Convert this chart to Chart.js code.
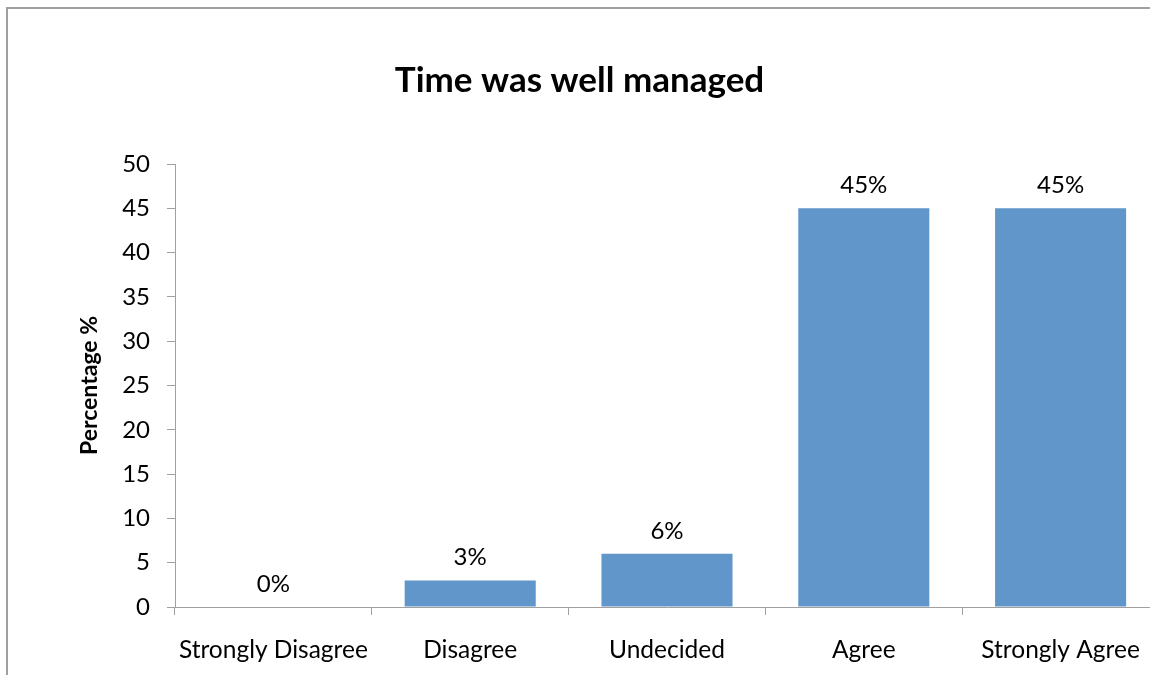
<!DOCTYPE html>
<html>
<head>
<meta charset="utf-8">
<script src="https://cdn.jsdelivr.net/npm/chart.js@4.4.1/dist/chart.umd.min.js"></script>
<style>
  html, body { margin: 0; padding: 0; overflow: hidden; background: #fff; width: 1150px; height: 675px; }
  #c { position: absolute; left: 0; top: 0; }
</style>
</head>
<body>
<canvas id="c" width="1180" height="675" style="width:1180px;height:675px"></canvas>
<script>
const categories = ["Strongly Disagree", "Disagree", "Undecided", "Agree", "Strongly Agree"];
const percentages = [0, 3, 6, 45, 45];
const yTicks = [0, 5, 10, 15, 20, 25, 30, 35, 40, 45, 50];

const FONT = "Lato, 'Open Sans', sans-serif";
const AXIS = "#a0a0a0";

const framePlugin = {
  id: 'frame',
  beforeDraw(chart) {
    const ctx = chart.ctx;
    ctx.save();
    ctx.fillStyle = '#fff';
    ctx.fillRect(0, 0, chart.width, chart.height);
    ctx.strokeStyle = '#a0a0a0';
    ctx.lineWidth = 2;
    ctx.strokeRect(7, 8, 1300, 1000);
    ctx.restore();
  }
};

const labelPlugin = {
  id: 'barLabels',
  afterDatasetsDraw(chart) {
    const ctx = chart.ctx;
    const meta = chart.getDatasetMeta(0);
    ctx.save();
    ctx.font = "24px " + FONT;
    ctx.fillStyle = '#000';
    ctx.textAlign = 'center';
    ctx.textBaseline = 'middle';
    meta.data.forEach((bar, i) => {
      ctx.fillText(percentages[i] + '%', bar.x, bar.y - 23);
    });
    ctx.restore();
  }
};

new Chart(document.getElementById('c'), {
  type: 'bar',
  data: {
    labels: categories,
    datasets: [{
      data: percentages,
      backgroundColor: '#6096C9',
      borderWidth: 0,
      barPercentage: 0.666,
      categoryPercentage: 1.0
    }]
  },
  options: {
    responsive: false,
    animation: false,
    devicePixelRatio: 1,
    layout: { padding: { top: 0, left: 0, right: 21, bottom: 0 } },
    plugins: {
      legend: { display: false },
      tooltip: { enabled: false },
      title: {
        display: true,
        text: 'Time was well managed',
        color: '#000',
        font: { family: FONT, size: 35, weight: 'bold', lineHeight: 1.2 },
        padding: { top: 60, bottom: 62 }
      }
    },
    scales: {
      x: {
        grid: { display: true, drawOnChartArea: false, drawTicks: true, tickLength: 8, color: AXIS, offset: true },
        border: { display: true, color: AXIS, width: 1 },
        ticks: { color: '#000', font: { family: FONT, size: 24.5 }, padding: 20, maxRotation: 0, autoSkip: false },
        afterFit(scale) { scale.height = 68; }
      },
      y: {
        min: 0,
        max: 50,
        afterBuildTicks(scale) { scale.ticks = yTicks.map(v => ({ value: v })); },
        grid: { display: true, drawOnChartArea: false, drawTicks: true, tickLength: 8, color: AXIS },
        border: { display: true, color: AXIS, width: 1 },
        ticks: { color: '#000', font: { family: FONT, size: 24 }, padding: 17 },
        title: {
          display: true,
          text: 'Percentage %',
          color: '#000',
          font: { family: FONT, size: 23, weight: 'bold', lineHeight: 1.2 },
          padding: { top: 76, bottom: 0 }
        },
        afterFit(scale) { scale.width = 175; }
      }
    }
  },
  plugins: [framePlugin, labelPlugin]
});
</script>
</body>
</html>
